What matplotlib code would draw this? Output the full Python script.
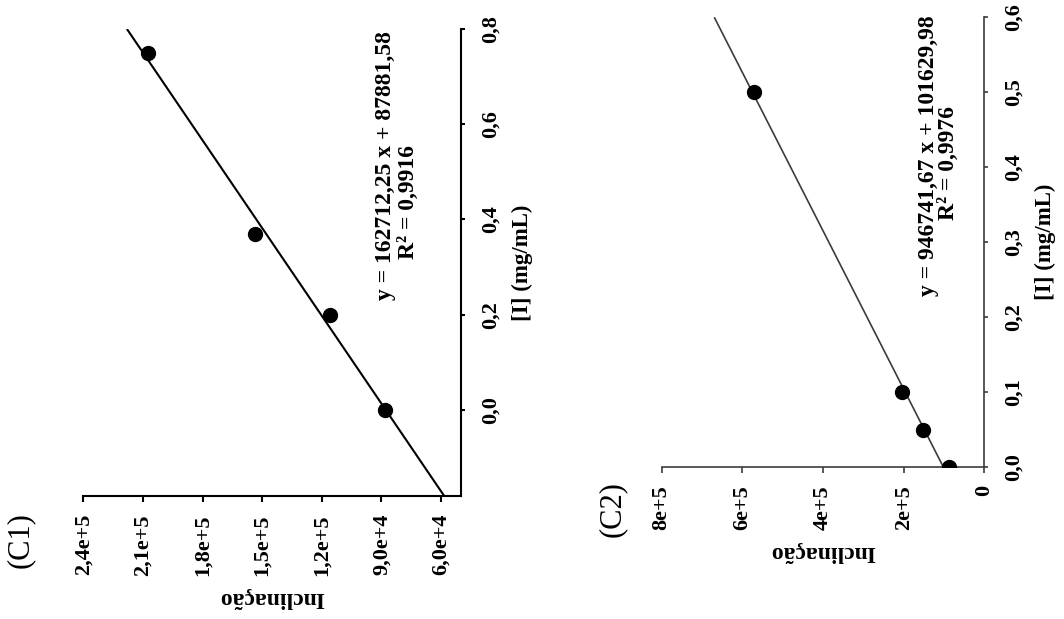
import matplotlib
matplotlib.use("Agg")
import matplotlib.pyplot as plt
from matplotlib.ticker import FixedLocator, FixedFormatter
import numpy as np

plt.rcParams["font.family"] = ["Liberation Serif", "DejaVu Serif"]
plt.rcParams["font.weight"] = "bold"
plt.rcParams["axes.labelweight"] = "bold"

W, H = 1064, 619

# ---- data ----
c1_conc = [0.0, 0.2, 0.37, 0.75]
c1_incl = [8.8e4, 1.16e5, 1.535e5, 2.075e5]
c1_slope, c1_icpt = 162712.25, 87881.58
c1_eq = "y = 162712,25 x + 87881,58"
c1_r2 = "R² = 0,9916"
c1_xticks = [2.4e5, 2.1e5, 1.8e5, 1.5e5, 1.2e5, 9.0e4, 6.0e4]
c1_xlabels = ["2,4e+5", "2,1e+5", "1,8e+5", "1,5e+5", "1,2e+5", "9,0e+4", "6,0e+4"]
c1_yticks = [0.0, 0.2, 0.4, 0.6, 0.8]
c1_ylabels = ["0,0", "0,2", "0,4", "0,6", "0,8"]

c2_conc = [0.0, 0.05, 0.1, 0.5]
c2_incl = [8.8e4, 1.53e5, 2.04e5, 5.72e5]
c2_slope, c2_icpt = 946741.67, 101629.98
c2_eq = "y = 946741,67 x + 101629,98"
c2_r2 = "R² = 0,9976"
c2_xticks = [8e5, 6e5, 4e5, 2e5, 0]
c2_xlabels = ["8e+5", "6e+5", "4e+5", "2e+5", "0"]
c2_yticks = [0.0, 0.1, 0.2, 0.3, 0.4, 0.5, 0.6]
c2_ylabels = ["0,0", "0,1", "0,2", "0,3", "0,4", "0,5", "0,6"]


def px_axes(fig, x0, x1, y0, y1):
    # axes box from pixel edges (y measured from top)
    return fig.add_axes([x0 / W, 1 - y1 / H, (x1 - x0) / W, (y1 - y0) / H])


def panel(ax, conc, incl, slope, icpt, xlim, ylim, fit_rng, xt, xl, yt, yl, col, lw):
    # figure is rotated: concentration runs up, slope runs right-to-left
    xs = np.array(fit_rng)
    ax.plot(slope * xs + icpt, xs, color=col, lw=lw, solid_capstyle="butt", zorder=2)
    ax.plot(incl, conc, "o", color="black", ms=10, zorder=3)
    ax.set_xlim(*xlim)
    ax.set_ylim(*ylim)
    for s in ("top", "left"):
        ax.spines[s].set_visible(False)
    for s in ("bottom", "right"):
        ax.spines[s].set_color(col)
        ax.spines[s].set_linewidth(lw)
    ax.yaxis.tick_right()
    ax.yaxis.set_label_position("right")
    ax.xaxis.set_major_locator(FixedLocator(xt))
    ax.xaxis.set_major_formatter(FixedFormatter(xl))
    ax.yaxis.set_major_locator(FixedLocator(yt))
    ax.yaxis.set_major_formatter(FixedFormatter(yl))
    ax.tick_params(axis="x", direction="out", length=4, width=lw, color=col,
                   pad=9, labelsize=16, labelrotation=90)
    ax.tick_params(axis="y", direction="out", length=3, width=lw, color=col,
                   pad=11, labelsize=16, labelrotation=90)
    for t in ax.get_yticklabels():
        t.set_va("center")
    ax.set_xlabel("Inclinação", rotation=180, fontsize=17, labelpad=8)
    ax.set_ylabel("[I] (mg/mL)", rotation=90, fontsize=16.5, labelpad=8)
    ax.patch.set_alpha(0)


fig = plt.figure(figsize=(W / 100, H / 100), dpi=100)

ax1 = px_axes(fig, 83.3, 461, 29, 496)
panel(ax1, c1_conc, c1_incl, c1_slope, c1_icpt, (2.4e5, 5.0e4), (-0.181, 0.8),
      (-0.181, 0.8), c1_xticks, c1_xlabels, c1_yticks, c1_ylabels, "black", 1.5)
ax1.text(0.799, 0.707, c1_eq, transform=ax1.transAxes, rotation=90,
         ha="center", va="center", fontsize=17)
ax1.text(0.862, 0.630, c1_r2, transform=ax1.transAxes, rotation=90,
         ha="center", va="center", fontsize=17)

ax2 = px_axes(fig, 661.7, 984.5, 17.3, 467.3)
panel(ax2, c2_conc, c2_incl, c2_slope, c2_icpt, (8e5, 0), (0, 0.6),
      (0, 0.6), c2_xticks, c2_xlabels, c2_yticks, c2_ylabels, "#3c3c3c", 1.2)
ax2.text(0.828, 0.692, c2_eq, transform=ax2.transAxes, rotation=90,
         ha="center", va="center", fontsize=17)
ax2.text(0.887, 0.676, c2_r2, transform=ax2.transAxes, rotation=90,
         ha="center", va="center", fontsize=17)

fig.text(20 / W, 1 - 540 / H, "(C1)", rotation=90, ha="center", va="center",
         fontsize=22, fontweight="normal")
fig.text(612.5 / W, 1 - 509 / H, "(C2)", rotation=90, ha="center", va="center",
         fontsize=22, fontweight="normal")

fig.savefig("out.png", dpi=100)
